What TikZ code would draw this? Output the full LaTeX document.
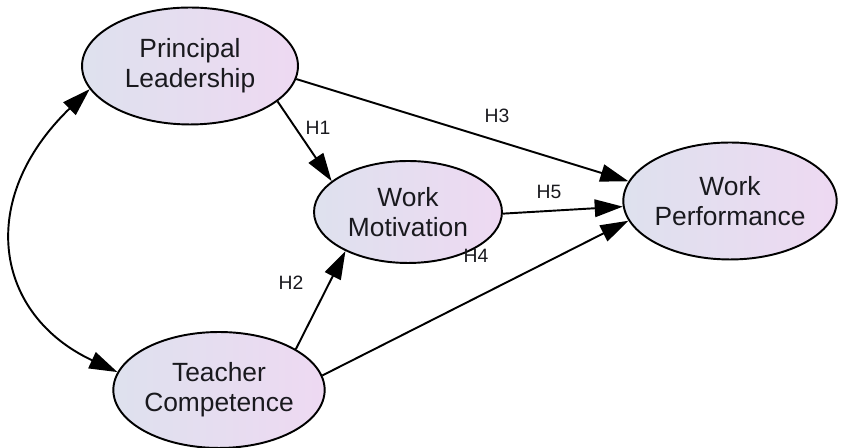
\documentclass[tikz,border=0pt]{standalone}
\usepackage{fontspec}
\setmainfont{Liberation Sans}
\usetikzlibrary{shapes.geometric,arrows.meta}
\definecolor{fillL}{RGB}{222,225,238}
\definecolor{fillR}{RGB}{238,217,242}
\definecolor{txt}{RGB}{25,25,30}
\tikzset{
  latent/.style={ellipse, draw=black, line width=1.1pt, left color=fillL, right color=fillR,
    inner sep=0pt, align=center, text=txt, font=\fontsize{15}{17}\selectfont},
  path/.style={line width=1.1pt, -{Triangle[length=16pt,width=10pt]}},
  biarrow/.style={line width=1.1pt, {Triangle[length=16pt,width=10pt]}-{Triangle[length=16pt,width=10pt]}},
  hlab/.style={font=\fontsize{11}{13}\selectfont, text=txt, inner sep=0pt}
}
\begin{document}
\begin{tikzpicture}[x=0.02cm,y=-0.02cm]
\useasboundingbox (0,0) rectangle (867,448);
\node[latent, minimum width=4.32cm, minimum height=2.34cm] (PL) at (190,66) {Principal\\Leadership};
\node[latent, minimum width=4.16cm, minimum height=2.32cm] (TC) at (219,390) {Teacher\\Competence};
\node[latent, minimum width=3.76cm, minimum height=2.04cm] (WM) at (408,212) {Work\\Motivation};
\node[latent, minimum width=3.68cm, minimum height=2.34cm] (WP) at (730,201) {Work\\Performance};

\draw[biarrow] (PL.193) .. controls (-25,200) and (-5,315) .. (TC.170);
\draw[path] (PL.-22) -- (WM.158);
\draw[path] (TC.28) -- (WM.212);
\draw[path] (PL.-7) -- (WP.169);
\draw[path] (WM.-1) -- (WP.183);
\draw[path] (TC.8) -- (WP.191);

\node[hlab] (h1) at (318,128) {H1};
\node[hlab] (h2) at (291,283) {H2};
\node[hlab] (h3) at (497,116) {H3};
\node[hlab] (h5) at (549,192) {H5};
\node[hlab] (h4) at (476,256) {H4};
\end{tikzpicture}
\end{document}
